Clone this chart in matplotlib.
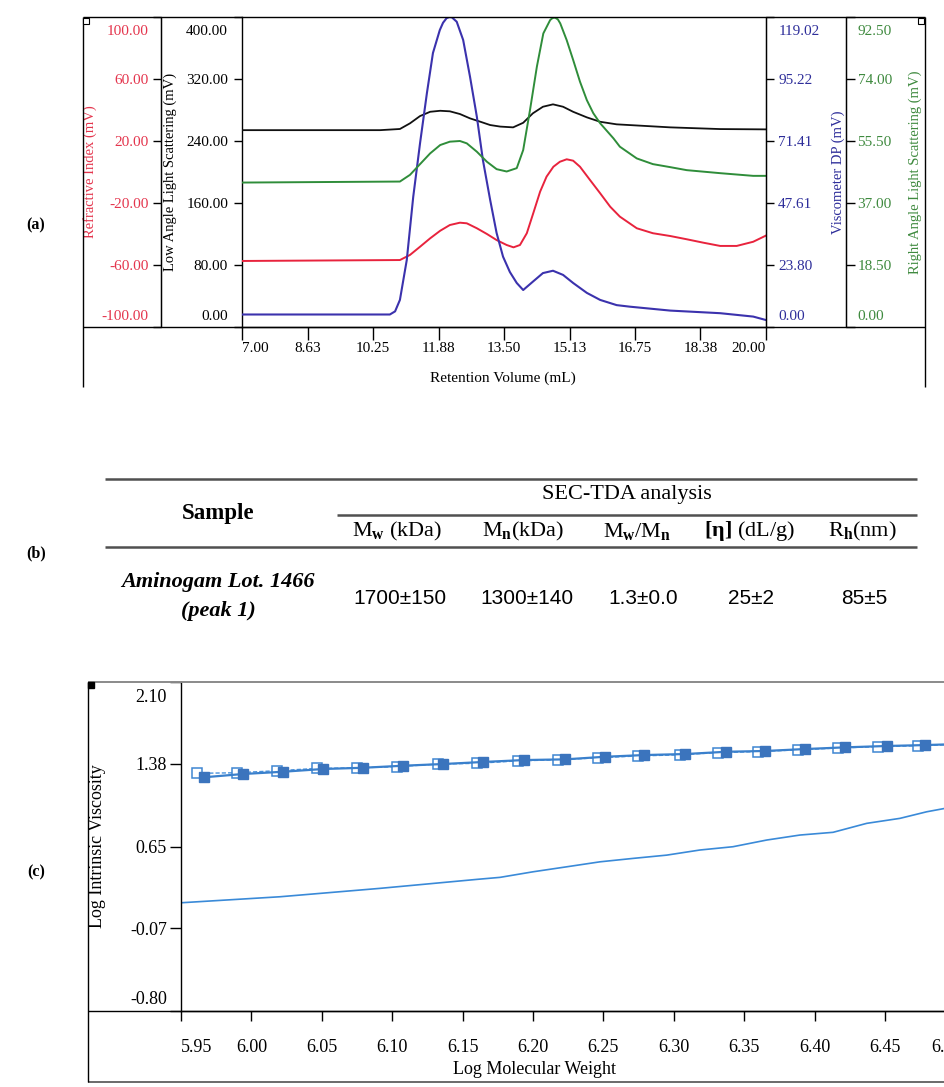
import matplotlib
matplotlib.use('Agg')
import matplotlib.pyplot as plt
from matplotlib.lines import Line2D
from matplotlib.transforms import ScaledTranslation

plt.rcParams['font.family'] = ['Liberation Serif', 'DejaVu Serif']
plt.rcParams['mathtext.fontset'] = 'custom'
plt.rcParams['mathtext.rm'] = 'Liberation Serif'
plt.rcParams['mathtext.it'] = 'Liberation Serif:italic'
plt.rcParams['mathtext.bf'] = 'Liberation Serif:bold'

# ---------------- data: panel (a) ----------------
vol_ticks = [7.00, 8.63, 10.25, 11.88, 13.50, 15.13, 16.75, 18.38, 20.00]
ri_ticks = [-100.0, -60.0, -20.0, 20.0, 60.0, 100.0]
lals_ticks = [0.0, 80.0, 160.0, 240.0, 320.0, 400.0]
dp_ticks = [0.00, 23.80, 47.61, 71.41, 95.22, 119.02]
rals_ticks = [0.00, 18.50, 37.00, 55.50, 74.00, 92.50]

dp_vol = [7.00, 10.67, 10.80, 10.92, 11.09, 11.25, 11.42, 11.59, 11.74, 11.91, 11.99, 12.08, 12.15,
          12.21, 12.33, 12.49, 12.66, 12.83, 12.98, 13.16, 13.32, 13.48, 13.65, 13.82, 13.98, 14.22,
          14.47, 14.72, 14.97, 15.22, 15.56, 15.89, 16.30, 16.63, 17.63, 18.87, 19.69, 20.00]
dp_mv = [4.8, 4.8, 6.0, 10.4, 25.7, 49.9, 70.6, 89.8, 105.2, 114.0, 116.8, 118.6, 119.0,
         118.9, 117.2, 110.2, 96.1, 80.7, 64.1, 48.8, 36.1, 27.0, 21.1, 16.9, 14.2, 17.4,
         20.7, 21.6, 20.0, 16.9, 13.1, 10.4, 8.4, 7.8, 6.3, 5.3, 4.0, 2.7]

lals_vol = [7.00, 10.43, 10.92, 11.17, 11.42, 11.67, 11.92, 12.16, 12.41, 12.66, 12.92, 13.16,
            13.41, 13.73, 13.98, 14.22, 14.47, 14.72, 14.97, 15.22, 15.56, 15.89, 16.30, 17.63,
            18.87, 20.00]
lals_mv = [254.0, 254.0, 255.5, 262.8, 272.2, 277.7, 279.0, 278.3, 274.8, 269.2, 264.8, 260.6,
           258.6, 257.6, 263.5, 275.7, 284.2, 287.3, 284.2, 277.7, 270.5, 264.8, 261.5, 257.6,
           255.4, 255.0]

rals_vol = [7.00, 10.92, 11.17, 11.42, 11.67, 11.92, 12.16, 12.41, 12.58, 12.83, 13.08, 13.32,
            13.57, 13.82, 13.98, 14.15, 14.32, 14.48, 14.65, 14.71, 14.77, 14.84, 14.90, 15.06, 15.22,
            15.39, 15.56, 15.72, 15.89, 16.22, 16.38, 16.80, 17.20, 17.63, 18.04, 18.87, 19.69, 20.00]
rals_mv = [43.1, 43.4, 45.4, 48.6, 51.8, 54.3, 55.3, 55.5, 54.8, 52.3, 49.3, 47.1,
           46.4, 47.4, 52.8, 64.8, 77.7, 87.6, 91.6, 92.2, 92.3, 91.8, 90.6, 85.6, 79.7,
           73.2, 67.7, 63.8, 60.8, 56.3, 53.8, 50.3, 48.6, 47.7, 46.8, 45.9, 45.1, 45.1]

ri_vol = [7.00, 10.92, 11.17, 11.42, 11.67, 11.92, 12.16, 12.41, 12.58, 12.83, 13.08, 13.32,
          13.57, 13.74, 13.90, 14.07, 14.23, 14.40, 14.56, 14.73, 14.89, 15.06, 15.22, 15.39,
          15.64, 15.89, 16.14, 16.38, 16.80, 17.20, 17.63, 18.04, 18.45, 18.87, 19.28, 19.69, 20.00]
ri_mv = [-57.4, -56.8, -53.5, -48.2, -42.8, -37.9, -34.2, -32.7, -33.1, -36.3, -40.0, -43.9,
         -47.1, -48.6, -47.1, -39.5, -26.6, -12.7, -3.0, 3.4, 6.6, 8.2, 7.3, 3.4,
         -5.2, -13.7, -22.4, -28.8, -36.3, -39.5, -41.3, -43.4, -45.6, -47.7, -47.7, -45.0, -41.1]

# ---------------- data: table (b) ----------------
table_headers = [r"M$_{\mathbf{w}}$ (kDa)", r"M$_{\mathbf{n}}$(kDa)",
                 r"M$_{\mathbf{w}}$/M$_{\mathbf{n}}$", r"$\mathbf{[\eta]}$ (dL/g)", r"R$_{\mathbf{h}}$(nm)"]
table_values = ["1700±150", "1300±140", "1.3±0.0", "25±2", "85±5"]
sample_name = ["Aminogam Lot. 1466", "(peak 1)"]

# ---------------- data: panel (c) ----------------
logmw_ticks = [5.95, 6.00, 6.05, 6.10, 6.15, 6.20, 6.25, 6.30, 6.35, 6.40, 6.45, 6.50]
logiv_ticks = [-0.80, -0.07, 0.65, 1.38, 2.10]

open_logmw = [5.9612, 5.9896, 6.0180, 6.0464, 6.0748, 6.1032, 6.1325, 6.1600, 6.1893, 6.2178,
              6.2462, 6.2746, 6.3044, 6.3314, 6.3598, 6.3882, 6.4166, 6.4450, 6.4734, 6.5018]
open_logiv = [1.295, 1.300, 1.318, 1.338, 1.344, 1.353, 1.377, 1.383, 1.405, 1.414,
              1.432, 1.448, 1.458, 1.478, 1.486, 1.502, 1.518, 1.530, 1.538, 1.550]
fill_logmw = [5.9663, 5.9940, 6.0224, 6.0508, 6.0793, 6.1077, 6.1361, 6.1645, 6.1936, 6.2227,
              6.2511, 6.2788, 6.3080, 6.3371, 6.3648, 6.3932, 6.4216, 6.4514, 6.4784, 6.5068]
fill_logiv = [1.260, 1.289, 1.309, 1.333, 1.344, 1.362, 1.377, 1.395, 1.412, 1.418,
              1.441, 1.456, 1.465, 1.485, 1.492, 1.509, 1.524, 1.536, 1.544, 1.555]
low_logmw = [5.950, 6.0203, 6.0913, 6.1600, 6.1766, 6.2000, 6.2239, 6.2476, 6.2710, 6.2950,
             6.3185, 6.3420, 6.3660, 6.3896, 6.4131, 6.4370, 6.4606, 6.4796, 6.4926, 6.5200]
low_logiv = [0.154, 0.207, 0.281, 0.360, 0.378, 0.427, 0.471, 0.515, 0.545, 0.574,
             0.619, 0.648, 0.707, 0.751, 0.775, 0.854, 0.898, 0.956, 0.986, 1.000]

# ---------------- figure ----------------
W, H = 945, 1087
fig = plt.figure(figsize=(W / 100, H / 100), dpi=100)
fig.patch.set_facecolor('white')


def fx(px):
    return px / W


def fy(py):
    return 1 - py / H


def fline(x0, y0, x1, y1, color='black', lw=1.0, **kw):
    fig.add_artist(Line2D([fx(x0), fx(x1)], [fy(y0), fy(y1)], transform=fig.transFigure,
                          color=color, lw=lw, solid_capstyle='butt', **kw))


def shift(txt, dx_px, dy_px):
    txt.set_transform(txt.get_transform() +
                      ScaledTranslation(dx_px / 100.0, dy_px / 100.0, fig.dpi_scale_trans))


RED = '#e8233d'
BLUE = '#3b32ad'
GREEN = '#2f8d3a'
RED_T = '#e4354d'
BLUE_T = '#2e2e9a'
GREEN_T = '#3f8a3f'

# ---------- panel (a) ----------
aL, aR, aT, aB = 242, 765.7, 17, 327
ax = fig.add_axes([fx(aL), fy(aB), fx(aR) - fx(aL), fy(aT) - fy(aB)])
ax_r = ax.twinx()
ax_b = ax.twinx()
ax_g = ax.twinx()
wpx = aR - aL

ax.set_xlim(7.0, 20.0)
ax.set_ylim(0, 400)
ax_r.set_ylim(-100, 100)
ax_b.set_ylim(0, 119.02)
ax_g.set_ylim(0, 92.5)

ax.plot(lals_vol, lals_mv, color='#111111', lw=1.3, zorder=3)
ax_r.plot(ri_vol, ri_mv, color=RED, lw=1.4)
ax_g.plot(rals_vol, rals_mv, color=GREEN, lw=1.4)
ax_b.plot(dp_vol, dp_mv, color=BLUE, lw=1.5)

for a in (ax, ax_r, ax_b, ax_g):
    for s in a.spines.values():
        s.set_visible(False)
    a.patch.set_visible(False)

ax.spines['left'].set_visible(True)
ax.spines['bottom'].set_visible(True)
ax.spines['left'].set_linewidth(1.0)
ax.spines['bottom'].set_linewidth(1.0)

ax_r.yaxis.set_ticks_position('left')
ax_r.yaxis.set_label_position('left')
ax_r.spines['left'].set_visible(True)
ax_r.spines['left'].set_position(('axes', -(aL - 161) / wpx))

ax_b.spines['right'].set_visible(True)
ax_g.spines['right'].set_visible(True)
ax_g.spines['right'].set_position(('axes', 1 + (845.7 - aR) / wpx))

ax.set_xticks(vol_ticks, labels=[f"{v:.2f}" for v in vol_ticks])
ax.tick_params(axis='x', direction='out', length=9, width=1, pad=2, labelsize=11)
xl = ax.get_xticklabels()
xl[0].set_ha('left')
xl[-1].set_ha('right')

specs = [
    (ax, lals_ticks, 'black', 5.5, 4.5, "Low Angle Light Scattering (mV)", -(aL - 170) / wpx),
    (ax_r, ri_ticks, RED_T, 6, 3, "Refractive Index (mV)", -(aL - 90) / wpx),
    (ax_b, dp_ticks, BLUE_T, 5.5, 3.5, "Viscometer DP (mV)", 1 + (838 - aR) / wpx),
    (ax_g, rals_ticks, GREEN_T, 6.5, 2, "Right Angle Light Scattering (mV)", 1 + (915 - aR) / wpx),
]
for a, ticks, col, ln, pd, lab, lx in specs:
    a.set_yticks(ticks, labels=[f"{v:.2f}" for v in ticks])
    a.tick_params(axis='y', direction='out', length=ln, width=1, pad=pd, labelsize=11,
                  color='black', labelcolor=col)
    yl = a.get_yticklabels()
    shift(yl[0], 0, 12)
    shift(yl[-1], 0, -13)
    a.set_ylabel(lab, color=col, fontsize=10.5)
    a.yaxis.label.set_va('center')
    a.yaxis.label.set_rotation_mode('default')
    a.yaxis.set_label_coords(lx, 0.5)

ax.set_xlabel("Retention Volume (mL)", fontsize=11)
ax.xaxis.set_label_coords((503 - aL) / wpx, -(372 - aB) / (aB - aT))

# frame lines of panel (a)
fline(83, aT, 925, aT, lw=1.0)
fline(83, aB, 925, aB, lw=1.0)
fline(83, aT, 83, 387, lw=1.0)
fline(925, aT, 925, 387, lw=1.0)
fline(161, aT, 161, aB, lw=1.0)
fline(845.7, aT, 845.7, aB, lw=1.0)
fline(aR, aT, aR, aB, lw=1.0)
for (px, py) in [(86.5, 20.5), (921.5, 20.5)]:
    fig.add_artist(Line2D([fx(px)], [fy(py)], transform=fig.transFigure, marker='s',
                          markersize=4.5, markerfacecolor='white', markeredgecolor='black',
                          markeredgewidth=0.8, linestyle='none'))

# ---------- table (b) ----------
TL = '#505050'
fline(105, 478.5, 917, 478.5, color=TL, lw=1.8)
fline(337, 514.5, 917, 514.5, color=TL, lw=1.8)
fline(105, 546.5, 917, 546.5, color=TL, lw=1.8)
fig.text(fx(218), fy(513), "Sample", ha='center', va='center', fontsize=16.5, fontweight='bold')
fig.text(fx(627), fy(494), "SEC-TDA analysis", ha='center', va='center', fontsize=16)
for hx, htxt in zip([397, 523, 637, 749, 862], table_headers):
    fig.text(fx(hx), fy(531), htxt, ha='center', va='center', fontsize=16)
fig.text(fx(218), fy(582), sample_name[0], ha='center', va='center', fontsize=16,
         fontweight='bold', fontstyle='italic')
fig.text(fx(218), fy(611), sample_name[1], ha='center', va='center', fontsize=16,
         fontweight='bold', fontstyle='italic')
for vx, vtxt in zip([400, 527, 643, 751, 864], table_values):
    fig.text(fx(vx), fy(598), vtxt, ha='center', va='center', fontsize=15,
             family=['Liberation Sans', 'DejaVu Sans'])

# ---------- panel (c) ----------
cL, cT, cB = 181, 682, 1011
pxu = 1408.0
xmax = 6.52
cR = cL + (xmax - 5.95) * pxu
axc = fig.add_axes([fx(cL), fy(cB), (cR - cL) / W, fy(cT) - fy(cB)])
axc.set_xlim(5.95, xmax)
axc.set_ylim(-0.80, 2.10)
for s in ('top', 'right'):
    axc.spines[s].set_visible(False)
axc.spines['left'].set_linewidth(1.0)
axc.spines['bottom'].set_linewidth(1.0)

LC = '#3a8ad8'
axc.plot(low_logmw, low_logiv, color=LC, lw=1.2)
axc.plot(open_logmw, open_logiv, color='#4a92dc', lw=1.0, linestyle=(0, (3, 1.5)),
         marker='s', markersize=6.5, markerfacecolor='white', markeredgecolor='#3f86d2',
         markeredgewidth=1.1)
axc.plot(fill_logmw, fill_logiv, color='#3a80cc', lw=1.6,
         marker='s', markersize=6.5, markerfacecolor='#3b74bd', markeredgecolor='#3b74bd')

axc.set_xticks(logmw_ticks, labels=[f"{v:.2f}" for v in logmw_ticks])
axc.tick_params(axis='x', direction='out', length=7, width=1, pad=13, labelsize=13)
cxl = axc.get_xticklabels()
cxl[0].set_ha('left')
shift(cxl[-1], -9, 0)
axc.set_yticks(logiv_ticks, labels=[f"{v:.2f}" for v in logiv_ticks])
axc.tick_params(axis='y', direction='out', length=8, width=1, pad=2, labelsize=13)
cyl = axc.get_yticklabels()
shift(cyl[0], 0, 13)
shift(cyl[-1], 0, -13)
axc.set_xlabel("Log Molecular Weight", fontsize=13)
axc.xaxis.set_label_coords((535 - cL) / (cR - cL), -(1061 - cB) / (cB - cT))
axc.set_ylabel("Log Intrinsic Viscosity", fontsize=13)
axc.yaxis.label.set_va('center')
axc.yaxis.label.set_rotation_mode('default')
axc.yaxis.set_label_coords(-(cL - 98) / (cR - cL), 0.5)

# frame lines of panel (c)
fline(88, cT, 945, cT, color='#8a8a8a', lw=1.4)
fline(88, cB, 945, cB, lw=1.0)
fline(88, 1082, 945, 1082, color='#6a6a6a', lw=1.4)
fline(88, cT, 88, 1082, lw=1.0)
fig.add_artist(Line2D([fx(91)], [fy(685)], transform=fig.transFigure, marker='s',
                      markersize=4.5, markerfacecolor='black', markeredgecolor='black',
                      linestyle='none'))

# panel labels
for ly, lt in [(225, "(a)"), (553, "(b)"), (872, "(c)")]:
    fig.text(fx(36), fy(ly), lt, ha='center', va='center', fontsize=11.5, fontweight='bold')

fig.savefig('out.png', dpi=100)
